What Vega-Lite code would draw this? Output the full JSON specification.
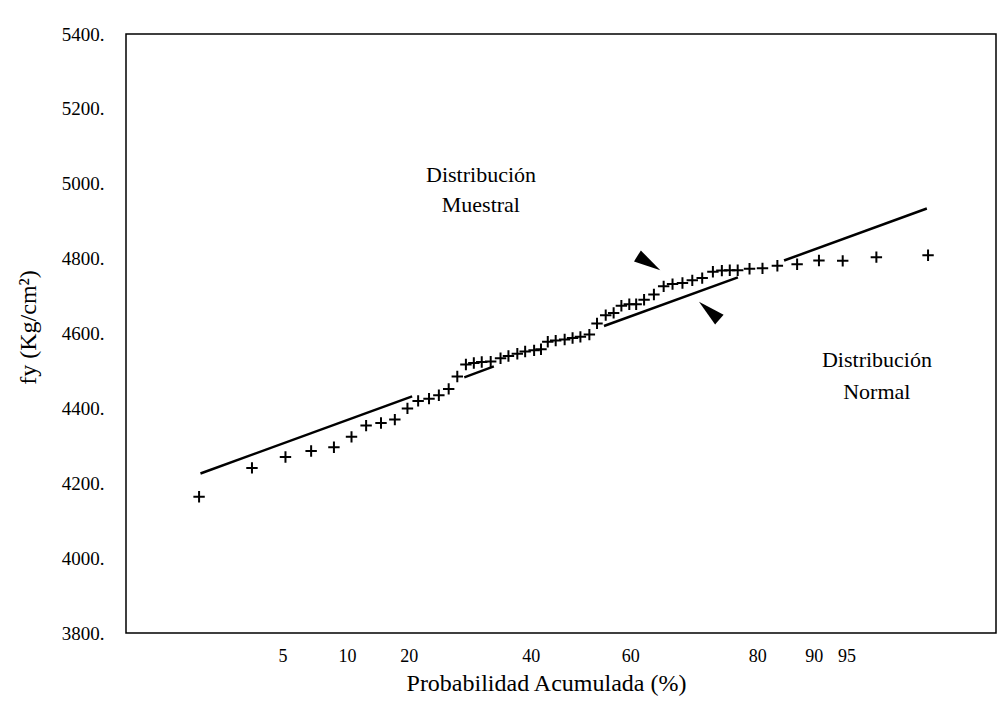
{
  "$schema": "https://vega.github.io/schema/vega-lite/v6.json",
  "width": 870,
  "height": 599,
  "autosize": {"type": "none"},
  "padding": {"left": 126, "top": 34, "right": 3, "bottom": 75},
  "background": "white",
  "config": {
    "view": {"stroke": "black", "strokeWidth": 1.5},
    "font": "Liberation Serif",
    "axis": {"labelColor": "black", "titleColor": "black", "labelFont": "Liberation Serif", "titleFont": "Liberation Serif", "titleFontWeight": "normal", "grid": false, "ticks": false, "domain": false}
  },
  "datasets": {
    "muestra": [
      {"pos": 8.40, "fy": 4164}, {"pos": 14.48, "fy": 4241}, {"pos": 18.33, "fy": 4270}, {"pos": 21.28, "fy": 4286},
      {"pos": 23.90, "fy": 4296}, {"pos": 25.92, "fy": 4324}, {"pos": 27.60, "fy": 4354}, {"pos": 29.31, "fy": 4361},
      {"pos": 30.90, "fy": 4370}, {"pos": 32.35, "fy": 4400}, {"pos": 33.58, "fy": 4420}, {"pos": 34.83, "fy": 4426},
      {"pos": 35.96, "fy": 4435}, {"pos": 37.09, "fy": 4452}, {"pos": 38.08, "fy": 4485}, {"pos": 39.07, "fy": 4517},
      {"pos": 39.98, "fy": 4521}, {"pos": 40.89, "fy": 4524}, {"pos": 41.92, "fy": 4525}, {"pos": 43.05, "fy": 4534},
      {"pos": 43.96, "fy": 4540}, {"pos": 44.98, "fy": 4546}, {"pos": 45.88, "fy": 4552}, {"pos": 46.91, "fy": 4555},
      {"pos": 47.70, "fy": 4558}, {"pos": 48.48, "fy": 4578}, {"pos": 49.39, "fy": 4581}, {"pos": 50.42, "fy": 4584},
      {"pos": 51.33, "fy": 4588}, {"pos": 52.23, "fy": 4591}, {"pos": 53.26, "fy": 4597}, {"pos": 54.14, "fy": 4627},
      {"pos": 55.14, "fy": 4649}, {"pos": 56.05, "fy": 4655}, {"pos": 56.94, "fy": 4674}, {"pos": 57.85, "fy": 4678},
      {"pos": 58.64, "fy": 4678}, {"pos": 59.55, "fy": 4690}, {"pos": 60.68, "fy": 4704}, {"pos": 61.80, "fy": 4726},
      {"pos": 62.82, "fy": 4732}, {"pos": 63.96, "fy": 4735}, {"pos": 65.09, "fy": 4742}, {"pos": 66.23, "fy": 4748},
      {"pos": 67.46, "fy": 4765}, {"pos": 68.49, "fy": 4768}, {"pos": 69.40, "fy": 4769}, {"pos": 70.31, "fy": 4769},
      {"pos": 71.67, "fy": 4773}, {"pos": 73.16, "fy": 4774}, {"pos": 74.87, "fy": 4781}, {"pos": 77.14, "fy": 4785},
      {"pos": 79.65, "fy": 4795}, {"pos": 82.38, "fy": 4794}, {"pos": 86.25, "fy": 4804}, {"pos": 92.19, "fy": 4809}
    ],
    "normal": [
      {"tramo": "a", "pos": 8.56, "fy": 4226}, {"tramo": "a", "pos": 32.89, "fy": 4432},
      {"tramo": "b", "pos": 38.88, "fy": 4483}, {"tramo": "b", "pos": 42.28, "fy": 4512},
      {"tramo": "c", "pos": 54.94, "fy": 4620}, {"tramo": "c", "pos": 70.33, "fy": 4750},
      {"tramo": "d", "pos": 75.64, "fy": 4795}, {"tramo": "d", "pos": 92.05, "fy": 4934}
    ],
    "flechas": [
      {"flecha": "muestral", "pos": 60.1, "fy": 4788},
      {"flecha": "normal", "pos": 67.03, "fy": 4661}
    ],
    "etiquetas": [
      {"pos": 40.81, "fy": 5024, "texto": "Distribución"},
      {"pos": 40.79, "fy": 4944, "texto": "Muestral"},
      {"pos": 86.32, "fy": 4529, "texto": "Distribución"},
      {"pos": 86.30, "fy": 4443, "texto": "Normal"}
    ]
  },
  "encoding": {
    "x": {
      "field": "pos", "type": "quantitative",
      "scale": {"domain": [0, 100]},
      "axis": {
        "values": [17.99, 25.41, 32.49, 46.53, 57.95, 72.55, 79.06, 82.82],
        "labelExpr": "datum.value < 20 ? '5' : datum.value < 28 ? '10' : datum.value < 40 ? '20' : datum.value < 50 ? '40' : datum.value < 65 ? '60' : datum.value < 75 ? '80' : datum.value < 80 ? '90' : '95'",
        "labelFontSize": 18, "labelPadding": 14, "labelFlush": false, "labelOverlap": false,
        "title": "Probabilidad Acumulada (%)", "titleFontSize": 24,
        "titleX": 420, "titleY": 50, "titleBaseline": "middle", "titleAlign": "center"
      }
    },
    "y": {
      "field": "fy", "type": "quantitative",
      "scale": {"domain": [3800, 5400], "zero": false, "nice": false},
      "axis": {
        "values": [3800, 4000, 4200, 4400, 4600, 4800, 5000, 5200, 5400],
        "format": "d", "labelExpr": "datum.label + '.'",
        "labelFontSize": 19, "labelPadding": 22, "labelFlush": false, "labelOverlap": false,
        "title": "fy (Kg/cm²)", "titleFontSize": 24,
        "titleX": -98, "titleY": 293, "titleBaseline": "middle", "titleAlign": "center", "titleAngle": -90
      }
    }
  },
  "layer": [
    {
      "data": {"name": "normal"},
      "mark": {"type": "line", "color": "black", "strokeWidth": 2.5},
      "encoding": {"detail": {"field": "tramo"}}
    },
    {
      "data": {"name": "muestra"},
      "mark": {"type": "point", "shape": "M-1,0L1,0M0,-1L0,1", "filled": false, "stroke": "black", "strokeWidth": 2, "size": 130, "opacity": 1}
    },
    {
      "data": {"name": "flechas"},
      "transform": [{"filter": "datum.flecha == 'muestral'"}],
      "mark": {"type": "point", "shape": "M-1,-0.48L1,0L-1,0.48Z", "filled": true, "fill": "black", "stroke": null, "size": 729, "angle": 32, "opacity": 1}
    },
    {
      "data": {"name": "flechas"},
      "transform": [{"filter": "datum.flecha == 'normal'"}],
      "mark": {"type": "point", "shape": "M-1,-0.48L1,0L-1,0.48Z", "filled": true, "fill": "black", "stroke": null, "size": 729, "angle": 221, "opacity": 1}
    },
    {
      "data": {"name": "etiquetas"},
      "mark": {"type": "text", "font": "Liberation Serif", "fontSize": 22, "color": "black", "align": "center", "baseline": "middle"},
      "encoding": {"text": {"field": "texto"}}
    }
  ]
}
